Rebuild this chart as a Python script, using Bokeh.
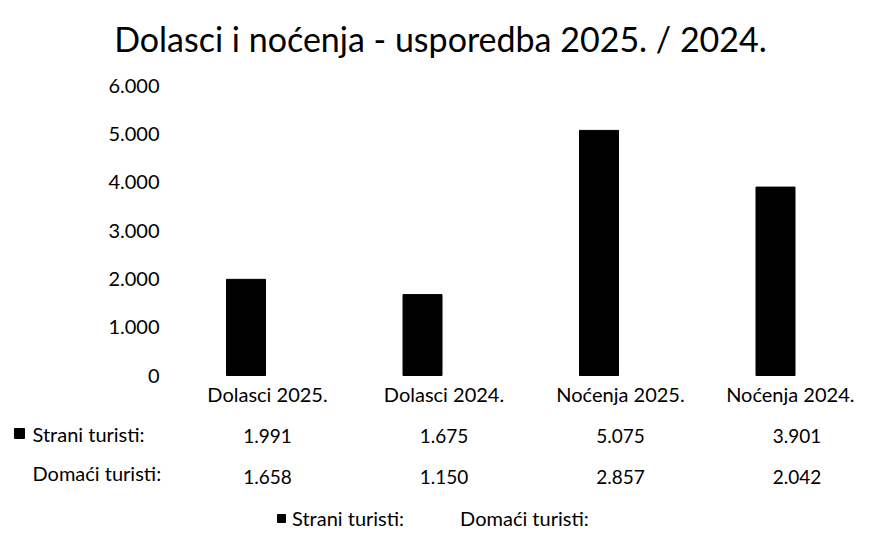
from bokeh.plotting import figure
from bokeh.models import Range1d, LinearAxis, FixedTicker, Legend, LegendItem, ColumnDataSource, Label
from bokeh.core.properties import value
from bokeh.embed import file_html
from bokeh.resources import INLINE

# ---- data ----
categories = ["Dolasci 2025.", "Dolasci 2024.", "Noćenja 2025.", "Noćenja 2024."]
strani = [1991, 1675, 5075, 3901]
domaci = [1658, 1150, 2857, 2042]
series_names = ["Strani turisti:", "Domaći turisti:"]
y_ticks = [0, 1000, 2000, 3000, 4000, 5000, 6000]
y_tick_labels = ["0", "1.000", "2.000", "3.000", "4.000", "5.000", "6.000"]
title_text = "Dolasci i noćenja - usporedba 2025. / 2024."


def fmt(v):
    return f"{v:,}".replace(",", ".")


# ---- layout constants (figure pixels) ----
W, H = 854, 531
X0_PX = 267          # x of first category centre
UNIT_PX = 176.5      # px per category
ZERO_PX = 375        # y (from top) of value 0
PX_PER_VAL = 48.3 / 1000.0
FONT = "Lato"

x_start = -X0_PX / UNIT_PX
x_end = (W - X0_PX) / UNIT_PX
y_end = ZERO_PX / PX_PER_VAL
y_start = -(H - ZERO_PX) / PX_PER_VAL


def xpx(px):  # figure px -> data x
    return (px - X0_PX) / UNIT_PX


def ypx(px):  # figure px from top -> data y
    return (ZERO_PX - px) / PX_PER_VAL


p = figure(frame_width=W, frame_height=H,
           x_range=Range1d(x_start, x_end), y_range=Range1d(y_start, y_end),
           x_axis_type=None, y_axis_type=None,
           output_backend="svg", toolbar_location=None, min_border=0)
p.outline_line_color = None
p.background_fill_color = "white"
p.border_fill_color = "white"

p.add_layout(Label(x=440, y=H - 38, x_units="screen", y_units="screen",
                   text=title_text, text_align="center", text_baseline="alphabetic",
                   text_font=FONT, text_font_size="34px", text_color="black"))

idx = list(range(len(categories)))
off = 21.5 / UNIT_PX
bw = 39 / UNIT_PX
src = ColumnDataSource(dict(
    xs=[i - off for i in idx], xd=[i + off for i in idx], xt=idx,
    strani=strani, domaci=domaci,
    s_lab=[fmt(v) for v in strani], d_lab=[fmt(v) for v in domaci],
))

r1 = p.vbar(x="xs", top="strani", bottom=0, width=bw, source=src,
            fill_color="black", line_color="black")
r2 = p.vbar(x="xd", top="domaci", bottom=0, width=bw, source=src,
            fill_color="white", line_color=None)

# y axis
yaxis = LinearAxis(fixed_location=xpx(165), ticker=FixedTicker(ticks=y_ticks),
                   major_label_overrides={t: l for t, l in zip(y_ticks, y_tick_labels)},
                   axis_line_color=None, major_tick_line_color=None, minor_tick_line_color=None,
                   major_tick_out=0, major_tick_in=0,
                   major_label_text_font=FONT, major_label_text_font_size="20px",
                   major_label_standoff=6, major_label_text_color="black")
p.add_layout(yaxis, "left")

# category axis
xaxis = LinearAxis(fixed_location=0, ticker=FixedTicker(ticks=idx),
                   major_label_overrides={i: c for i, c in zip(idx, categories)},
                   axis_line_color=None, major_tick_line_color=None, minor_tick_line_color=None,
                   major_tick_out=0, major_tick_in=0,
                   major_label_text_font=FONT, major_label_text_font_size="20px",
                   major_label_standoff=6, major_label_text_color="black")
p.add_layout(xaxis, "below")

# data table
row1_y = ypx(435)
row2_y = ypx(476)
p.text(x="xt", y=row1_y, text="s_lab", source=src, text_align="center", text_baseline="middle",
       text_font=value(FONT), text_font_size="19px", text_color="black")
p.text(x="xt", y=row2_y, text="d_lab", source=src, text_align="center", text_baseline="middle",
       text_font=value(FONT), text_font_size="19px", text_color="black")
p.text(x=[xpx(32), xpx(32)], y=[ypx(433), ypx(472)],
       text=series_names,
       text_align="left", text_baseline="middle",
       text_font=value(FONT), text_font_size="20px", text_color="black")
p.scatter(x=[xpx(19)], y=[ypx(433)], marker="square", size=10,
          fill_color="black", line_color="black")

legend = Legend(items=[LegendItem(label=series_names[0], renderers=[r1]),
                       LegendItem(label=series_names[1], renderers=[r2])],
                orientation="horizontal", location=(276, 1),
                glyph_width=10, glyph_height=10, label_standoff=6, spacing=40,
                padding=0, margin=0, border_line_color=None, background_fill_alpha=0,
                label_text_font=FONT, label_text_font_size="20px", label_text_color="black")
p.add_layout(legend, "center")

open("out.html", "w").write(file_html(p, INLINE))
